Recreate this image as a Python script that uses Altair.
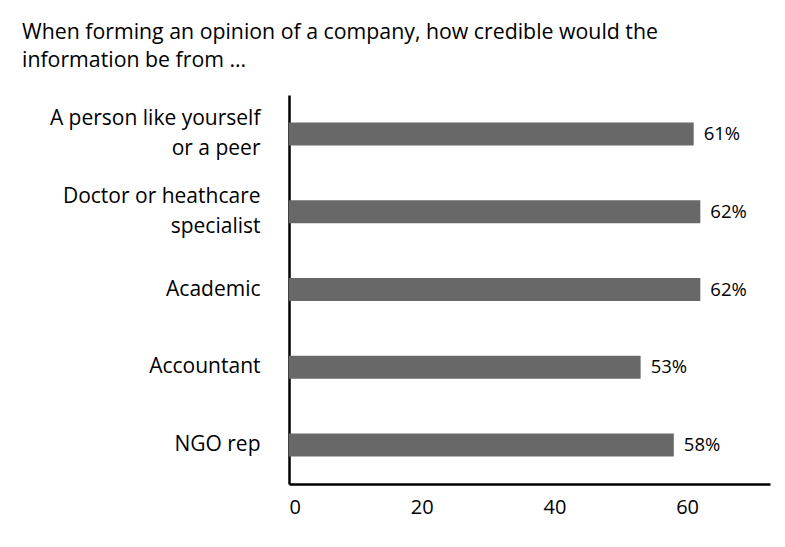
import altair as alt
import pandas as pd

categories = ["A person like yourself|or a peer", "Doctor or heathcare|specialist", "Academic", "Accountant", "NGO rep"]
values = [61, 62, 62, 53, 58]
labels = ["61%", "62%", "62%", "53%", "58%"]

df = pd.DataFrame({"cat": categories, "val": values, "lab": labels})
FONT = "Open Sans"

y = alt.Y("cat:N", sort=categories, title=None,
          axis=alt.Axis(labelExpr="split(datum.label, '|')", labelLineHeight=30,
                        labelOffset=alt.condition("indexof(datum.value, '|') >= 0",
                                                  alt.value(-15), alt.value(0)),
                        labelFontSize=21, labelFont=FONT, labelColor="#000000",
                        labelPadding=29, ticks=False, domainColor="#000000",
                        domainWidth=2.5, labelLimit=400))

bars = alt.Chart(df).mark_bar(size=23, color="#686868").encode(
    x=alt.X("val:Q", scale=alt.Scale(domain=[0, 72.5], nice=False), title=None,
            axis=alt.Axis(values=[0, 20, 40, 60], grid=False, ticks=False,
                          labelFontSize=20, labelFont=FONT, labelColor="#000000",
                          labelPadding=13, domainColor="#000000", domainWidth=2.5)),
    y=y,
)

text = alt.Chart(df).mark_text(align="left", baseline="middle", dx=10, fontSize=18.5,
                               font=FONT, color="#000000").encode(
    x="val:Q", y=alt.Y("cat:N", sort=categories), text="lab:N")

chart = (bars + text).properties(
    width=481, height=389,
    autosize=alt.AutoSizeParams(type="none"),
    padding={"left": 289, "top": 95, "right": 15, "bottom": 63},
    background="white",
    title=alt.TitleParams(
        text=["When forming an opinion of a company, how credible would the",
              "information be from \u2026"],
        anchor="start", frame="group", dx=-267, offset=24,
        fontSize=21.3, font=FONT, fontWeight="normal", color="#000000", lineHeight=28),
).configure_view(strokeWidth=0, stroke="transparent")

chart.save("out.html", embed_options={"renderer": "svg", "actions": False})
